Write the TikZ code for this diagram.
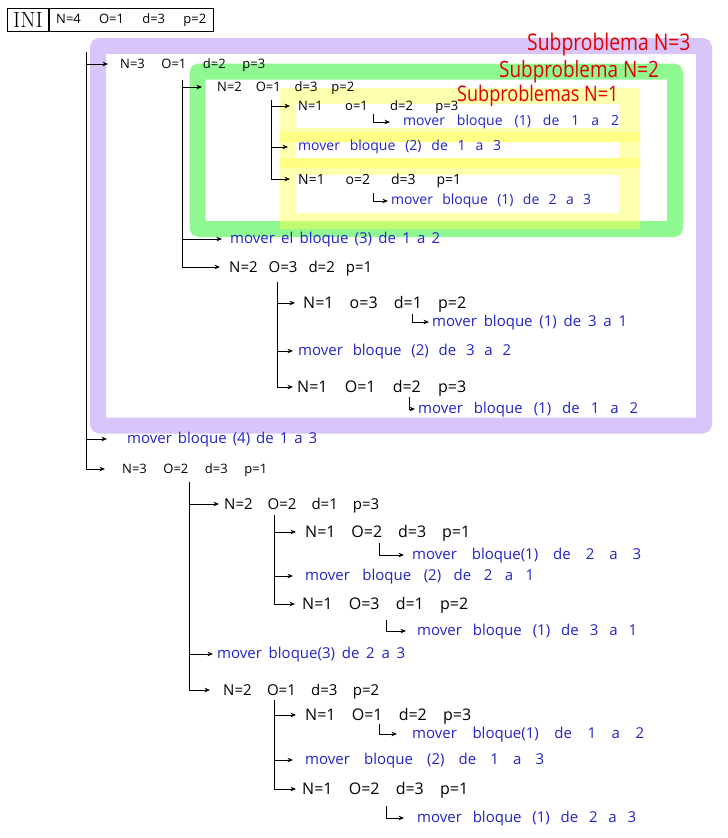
\documentclass[tikz,border=0pt]{standalone}
\usepackage{fontspec}
\newfontfamily\hand{Open Sans}
\usetikzlibrary{arrows.meta}
\definecolor{lila}{RGB}{216,198,250}
\definecolor{verde}{RGB}{144,248,144}
\definecolor{amarillo}{RGB}{255,255,80}
\definecolor{tinta}{RGB}{35,35,200}
\definecolor{rojo}{RGB}{228,0,0}
% spread the words of a line over a given width
\newcommand\tokline[2]{\makebox[#1][s]{#2}}
% narrow red heading
\newcommand\rojotxt[1]{\scalebox{0.84}[1]{#1}}

\begin{document}
\begin{tikzpicture}[x=1pt,y=1pt,
  arr/.style={line width=0.8pt,-{Stealth[length=5.5pt,width=4.6pt]}},
  txt/.style={anchor=west,inner sep=0pt,text depth=0pt},
  pa/.style={txt,text=black,text height=9.3pt,font=\hand\fontsize{13}{15}\selectfont},
  pb/.style={txt,text=black,text height=10pt,font=\hand\fontsize{14}{16}\selectfont},
  pc/.style={txt,text=black,text height=10.7pt,font=\hand\fontsize{15}{17}\selectfont},
  pd/.style={txt,text=black,text height=11.5pt,font=\hand\fontsize{16}{18}\selectfont},
  mv/.style={txt,text=tinta,text height=7.5pt,font=\hand\fontsize{14}{16}\selectfont},
  mw/.style={txt,text=tinta,text height=8pt,font=\hand\fontsize{15}{17}\selectfont},
  sub/.style={anchor=west,inner sep=0pt,text=rojo},
  yframe/.style={fill=amarillo,fill opacity=0.45,even odd rule}]

\useasboundingbox (0,0) rectangle (728,-838);

% ---------- highlighted sub-problems ----------
\draw[lila,line width=16pt,rounded corners=2pt] (98,-46) rectangle (704,-425.5);
\draw[verde,line width=16pt,rounded corners=2pt] (197.5,-71.5) rectangle (675,-229);
\path[yframe] (280,-88) rectangle (640,-142) (296,-104) rectangle (619,-128);
\path[yframe] (280,-132) rectangle (640,-168) (296,-142) rectangle (619,-158);
\path[yframe] (280,-158) rectangle (640,-229) (296,-175) rectangle (619,-213);

\node[sub,font=\hand\fontsize{23}{26}\selectfont] (r3) at (527,-45) {\rojotxt{Subproblema N=3}};
\node[sub,font=\hand\fontsize{22.5}{26}\selectfont] (r2) at (499,-72) {\rojotxt{Subproblema N=2}};
\node[sub,font=\hand\fontsize{21.5}{25}\selectfont] (r1) at (457,-96) {\rojotxt{Subproblemas N=1}};

% ---------- initial call ----------
\node[draw,line width=0.8pt,minimum width=41pt,minimum height=23pt,inner sep=0pt,
      anchor=north west,font=\fontsize{22}{24}\selectfont] (ini) at (7,-8) {INI};
\node[draw,line width=0.8pt,minimum width=164pt,minimum height=23pt,inner sep=0pt,
      anchor=north west,font=\hand\fontsize{13}{15}\selectfont] (ini0) at (ini.north east)
      {\tokline{150pt}{N=4 O=1 d=3 p=2}};

% ---------- level 1 ----------
\coordinate (s1) at (86,-52);
\node[pa] (L1a) at (120,-64) {\tokline{145pt}{N=3 O=1 d=2 p=3}};
\node[mw] (L1b) at (127,-439) {\tokline{190pt}{mover bloque (4) de 1 a 3}};
\node[pa] (L1c) at (122,-469) {\tokline{145pt}{N=3 O=2 d=3 p=1}};
\draw[arr,shorten >=12pt] (s1) |- (L1a.west);
\draw[arr,shorten >=20pt] (s1) |- (L1b.west);
\draw[arr,shorten >=17pt] (s1) |- (L1c.west);

% ---------- level 2, first half ----------
\coordinate (s2a) at (182,-80);
\node[pa] (L2a1) at (217,-87) {\tokline{137pt}{N=2 O=1 d=3 p=2}};
\node[mw] (L2a2) at (230,-239) {\tokline{210pt}{mover el bloque (3) de 1 a 2}};
\node[pc] (L2a3) at (229,-267) {\tokline{143pt}{N=2 O=3 d=2 p=1}};
\draw[arr,shorten >=15pt] (s2a) |- (L2a1.west);
\draw[arr,shorten >=8pt] (s2a) |- (L2a2.west);
\draw[arr,shorten >=9pt] (s2a) |- (L2a3.west);

% ---------- level 3, N=2 from 1 to 3 ----------
\coordinate (s3a) at (271,-100);
\node[pa] (L3a1) at (298,-106) {\tokline{160pt}{N=1 o=1 d=2 p=3}};
\node[mv] (M3a2) at (298,-147) {\tokline{203pt}{mover bloque (2) de 1 a 3}};
\node[pb] (L3a3) at (298,-179) {\tokline{163pt}{N=1 o=2 d=3 p=1}};
\draw[arr,shorten >=8pt] (s3a) |- (L3a1.west);
\draw[arr,shorten >=10pt] (s3a) |- (M3a2.west);
\draw[arr,shorten >=8pt] (s3a) |- (L3a3.west);
\coordinate (h3a1) at (373,-114);
\node[mv] (M3a1) at (403,-122) {\tokline{216pt}{mover bloque (1) de 1 a 2}};
\draw[arr,shorten >=13pt] (h3a1) |- (M3a1.west);
\coordinate (h3a3) at (373,-193);
\node[mv] (M3a3) at (391,-201) {\tokline{200pt}{mover bloque (1) de 2 a 3}};
\draw[arr,shorten >=3pt] (h3a3) |- (M3a3.west);

% ---------- level 3, N=2 from 3 to 2 ----------
\coordinate (s3b) at (277,-282);
\node[pd] (L3b1) at (303,-303) {\tokline{163pt}{N=1 o=3 d=1 p=2}};
\node[mw] (M3b2) at (298,-351) {\tokline{213pt}{mover bloque (2) de 3 a 2}};
\node[pd] (L3b3) at (297,-387) {\tokline{169pt}{N=1 O=1 d=2 p=3}};
\draw[arr,shorten >=8pt] (s3b) |- (L3b1.west);
\draw[arr,shorten >=5pt] (s3b) |- (M3b2.west);
\draw[arr,shorten >=4pt] (s3b) |- (L3b3.west);
\coordinate (h3b1) at (412,-314);
\node[mw] (M3b1) at (432,-322) {\tokline{195pt}{mover bloque (1) de 3 a 1}};
\draw[arr,shorten >=3pt] (h3b1) |- (M3b1.west);
\coordinate (h3b3) at (409,-397);
\node[mw] (M3b3) at (418,-409) {\tokline{220pt}{mover bloque (1) de 1 a 2}};
\draw[arr,shorten >=3pt] (h3b3) |- (M3b3.west);

% ---------- level 2, second half ----------
\coordinate (s2b) at (189,-482);
\node[pc] (L2b1) at (224,-504) {\tokline{155pt}{N=2 O=2 d=1 p=3}};
\node[mw] (M2b2) at (217,-654) {\tokline{188pt}{mover bloque(3) de 2 a 3}};
\node[pc] (L2b3) at (223,-690) {\tokline{156pt}{N=2 O=1 d=3 p=2}};
\draw[arr,shorten >=5pt] (s2b) |- (L2b1.west);
\draw[arr,shorten >=4pt] (s2b) |- (M2b2.west);
\draw[arr,shorten >=13pt] (s2b) |- (L2b3.west);

% ---------- level 3, N=2 from 2 to 1 ----------
\coordinate (s3c) at (274,-515);
\node[pd] (L3c1) at (305,-532) {\tokline{165pt}{N=1 O=2 d=3 p=1}};
\node[mw] (M3c2) at (305,-576) {\tokline{229pt}{mover bloque (2) de 2 a 1}};
\node[pd] (L3c3) at (302,-604) {\tokline{166pt}{N=1 O=3 d=1 p=2}};
\draw[arr,shorten >=9pt] (s3c) |- (L3c1.west);
\draw[arr,shorten >=12pt] (s3c) |- (M3c2.west);
\draw[arr,shorten >=7pt] (s3c) |- (L3c3.west);
\coordinate (h3c1) at (379,-543);
\node[mw] (M3c1) at (412,-555) {\tokline{229pt}{mover bloque(1) de 2 a 3}};
\draw[arr,shorten >=8pt] (h3c1) |- (M3c1.west);
\coordinate (h3c3) at (386,-620);
\node[mw] (M3c3) at (417,-631) {\tokline{220pt}{mover bloque (1) de 3 a 1}};
\draw[arr,shorten >=11pt] (h3c3) |- (M3c3.west);

% ---------- level 3, N=2 from 1 to 3 ----------
\coordinate (s3d) at (274,-700);
\node[pd] (L3d1) at (305,-715) {\tokline{166pt}{N=1 O=1 d=2 p=3}};
\node[mw] (M3d2) at (305,-760) {\tokline{239pt}{mover bloque (2) de 1 a 3}};
\node[pd] (L3d3) at (302,-789) {\tokline{166pt}{N=1 O=2 d=3 p=1}};
\draw[arr,shorten >=9pt] (s3d) |- (L3d1.west);
\draw[arr,shorten >=12pt] (s3d) |- (M3d2.west);
\draw[arr,shorten >=6pt] (s3d) |- (L3d3.west);
\coordinate (h3d1) at (379,-724);
\node[mw] (M3d1) at (412,-734) {\tokline{232pt}{mover bloque(1) de 1 a 2}};
\draw[arr,shorten >=15pt] (h3d1) |- (M3d1.west);
\coordinate (h3d3) at (386,-806);
\node[mw] (M3d3) at (417,-818) {\tokline{219pt}{mover bloque (1) de 2 a 3}};
\draw[arr,shorten >=13pt] (h3d3) |- (M3d3.west);

\end{tikzpicture}
\end{document}
